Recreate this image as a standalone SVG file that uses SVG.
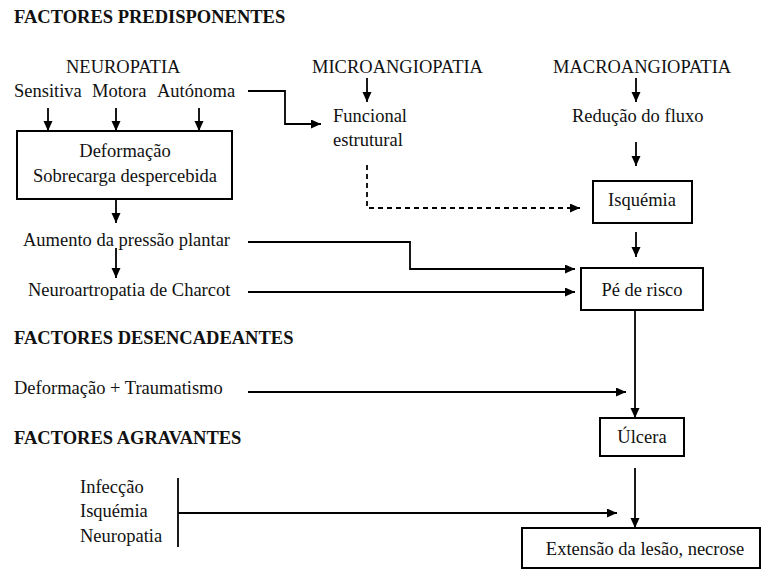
<svg xmlns="http://www.w3.org/2000/svg" width="761" height="569" viewBox="0 0 761 569">
<style>
text{font-family:"Liberation Serif","Times New Roman",serif;font-size:18.5px;fill:#111}
.h{font-weight:bold}
.c{text-anchor:middle}
.box{fill:#fff;stroke:#000;stroke-width:2}
.ln{fill:none;stroke:#000;stroke-width:1.8}
.ds{stroke-dasharray:5,4}
</style>
<defs>
<marker id="ah" markerUnits="userSpaceOnUse" markerWidth="11" markerHeight="10" refX="10" refY="4.5" orient="auto">
<path d="M0,0 L10,4.5 L0,9 z" fill="#000"/>
</marker>
</defs>
<rect width="761" height="569" fill="#fff"/>
<g id="headings">
<text class="h" x="14" y="23">FACTORES PREDISPONENTES</text>
<text class="h" x="14" y="344">FACTORES DESENCADEANTES</text>
<text class="h" x="14" y="444">FACTORES AGRAVANTES</text>
</g>
<g id="neuropatia">
<text x="66" y="73">NEUROPATIA</text>
<text x="14" y="97">Sensitiva</text>
<text x="92" y="97">Motora</text>
<text x="157" y="97">Autónoma</text>
</g>
<g id="deformacao">
<rect class="box" x="17" y="131" width="215" height="68"/>
<text class="c" x="125" y="157">Deformação</text>
<text class="c" x="125" y="182">Sobrecarga despercebida</text>
</g>
<g id="aumento"><text x="23" y="246">Aumento da pressão plantar</text></g>
<g id="charcot"><text x="28" y="296">Neuroartropatia de Charcot</text></g>
<g id="micro"><text x="312" y="73">MICROANGIOPATIA</text></g>
<g id="funcional">
<text x="333" y="122">Funcional</text>
<text x="333" y="146">estrutural</text>
</g>
<g id="macro"><text x="553" y="73">MACROANGIOPATIA</text></g>
<g id="reducao"><text x="572" y="122">Redução do fluxo</text></g>
<g id="isquemia">
<rect class="box" x="593" y="181" width="99" height="42"/>
<text class="c" x="642" y="206">Isquémia</text>
</g>
<g id="pe">
<rect class="box" x="581" y="268" width="122" height="42"/>
<text class="c" x="642" y="296">Pé de risco</text>
</g>
<g id="trauma"><text x="14" y="394">Deformação + Traumatismo</text></g>
<g id="ulcera">
<rect class="box" x="600" y="418" width="84" height="38"/>
<text class="c" x="642" y="443">Úlcera</text>
</g>
<g id="agravantes">
<text x="80" y="493">Infecção</text>
<text x="80" y="517">Isquémia</text>
<text x="80" y="542">Neuropatia</text>
</g>
<g id="extensao">
<rect class="box" x="522" y="528" width="238" height="40"/>
<text class="c" x="645" y="555">Extensão da lesão, necrose</text>
</g>
<g id="connectors">
<line class="ln" x1="48" y1="108" x2="48" y2="131" marker-end="url(#ah)"/>
<line class="ln" x1="116" y1="108" x2="116" y2="131" marker-end="url(#ah)"/>
<line class="ln" x1="199" y1="108" x2="199" y2="131" marker-end="url(#ah)"/>
<polyline class="ln" points="248,91 285,91 285,124 321,124" marker-end="url(#ah)"/>
<line class="ln" x1="116" y1="199" x2="116" y2="223" marker-end="url(#ah)"/>
<line class="ln" x1="116" y1="248" x2="116" y2="278" marker-end="url(#ah)"/>
<line class="ln" x1="367" y1="78" x2="367" y2="102" marker-end="url(#ah)"/>
<line class="ln" x1="636" y1="78" x2="636" y2="102" marker-end="url(#ah)"/>
<polyline class="ln ds" points="367,165 367,208 580,208" marker-end="url(#ah)"/>
<line class="ln" x1="636" y1="142" x2="636" y2="166" marker-end="url(#ah)"/>
<line class="ln" x1="636" y1="232" x2="636" y2="257" marker-end="url(#ah)"/>
<polyline class="ln" points="248,242 410,242 410,269 575,269" marker-end="url(#ah)"/>
<line class="ln" x1="248" y1="292" x2="575" y2="292" marker-end="url(#ah)"/>
<line class="ln" x1="635" y1="310" x2="635" y2="418" marker-end="url(#ah)"/>
<line class="ln" x1="248" y1="392" x2="626" y2="392" marker-end="url(#ah)"/>
<line class="ln" x1="178" y1="478" x2="178" y2="547"/>
<line class="ln" x1="178" y1="513" x2="617" y2="513" marker-end="url(#ah)"/>
<line class="ln" x1="635" y1="468" x2="635" y2="528" marker-end="url(#ah)"/>
</g>
</svg>
